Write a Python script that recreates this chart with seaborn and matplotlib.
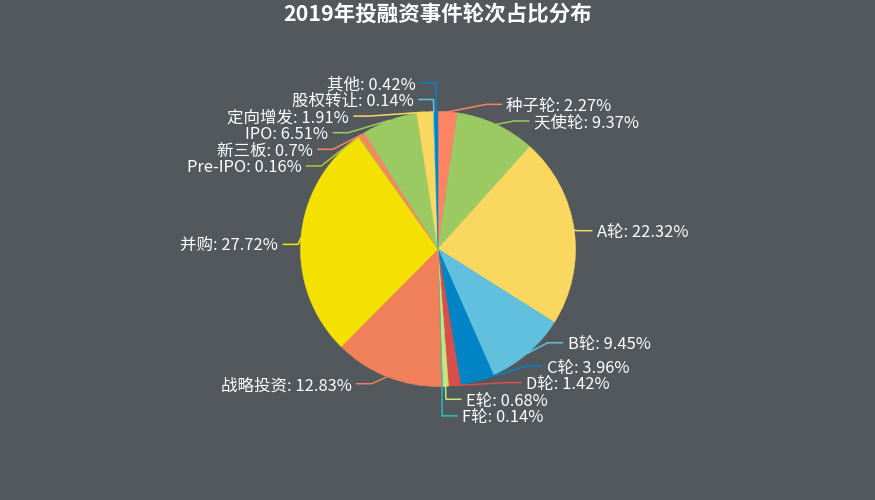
import numpy as np
import matplotlib
matplotlib.use('Agg')
import matplotlib.pyplot as plt
import seaborn as sns

# ---------------- data ----------------
title = '2019年投融资事件轮次占比分布'
categories = ['种子轮', '天使轮', 'A轮', 'B轮', 'C轮', 'D轮', 'E轮', 'F轮', '战略投资',
              '并购', 'Pre-IPO', '新三板', 'IPO', '定向增发', '股权转让', '其他']
shares = [2.27, 9.37, 22.32, 9.45, 3.96, 1.42, 0.68, 0.14, 12.83,
          27.72, 0.16, 0.7, 6.51, 1.91, 0.14, 0.42]
palette_hex = ['#fe8463', '#9bca63', '#fad860', '#60c0dd', '#0084c6', '#d7504b',
               '#c6e579', '#26c0c0', '#f0805a', '#f4e001', '#b5c334']

# ---------------- style ----------------
BG = '#53585d'
W, H = 875, 500
CX, CY, R = 438, 249, 137.5
L1, L2, LD = 7.5, 15, 5        # label line length, length2, text distance
LH = 16.6                      # label height used for overlap avoidance
FS = 16.5 * 72 / 100           # 16.5px

sns.set_theme(style='white')
plt.rcParams['font.family'] = ['Noto Sans CJK SC', 'DejaVu Sans']

colors = sns.color_palette(palette_hex, n_colors=len(categories))

fig = plt.figure(figsize=(W / 100, H / 100), dpi=100, facecolor=BG)
ax = fig.add_axes([0, 0, 1, 1])
ax.set_facecolor(BG)

wedges, _ = ax.pie(shares, colors=colors, startangle=-90, counterclock=True,
                   center=(CX, CY), radius=R, wedgeprops=dict(linewidth=0))
for w in wedges:
    w.set_edgecolor(w.get_facecolor())
    w.set_linewidth(0.4)

ax.set_xlim(0, W)
ax.set_ylim(H, 0)
ax.set_aspect('auto')
ax.axis('off')

# ---------------- label layout (pixel coords, y down) ----------------
items = []
for i, wdg in enumerate(wedges):
    mid = np.deg2rad((wdg.theta1 + wdg.theta2) / 2)
    dx, dy = np.cos(mid), np.sin(mid)
    d = 1 if dx >= 0 else -1
    x1, y1 = CX + dx * R, CY + dy * R
    x2, y2 = CX + dx * (R + L1), CY + dy * (R + L1)
    x3 = x2 + d * L2
    items.append(dict(idx=i, dir=d, x1=x1, y1=y1, x=x3 + d * LD, y=y2, h=LH))


def adjust_side(lst, d):
    if not lst:
        return
    lst.sort(key=lambda it: it['y'])
    n = len(lst)

    def shift_up(end, delta):
        for j in range(end, -1, -1):
            if lst[j]['y'] - delta < 0:
                break
            lst[j]['y'] -= delta
            if j > 0 and lst[j]['y'] > lst[j - 1]['y'] + lst[j - 1]['h']:
                break

    def shift_down(start, end, delta):
        for j in range(start, end):
            if lst[j]['y'] + delta > H:
                break
            lst[j]['y'] += delta
            if j > start and j + 1 < end and lst[j + 1]['y'] > lst[j]['y'] + lst[j]['h']:
                shift_up(j, delta / 2)
                return
        shift_up(end - 1, delta / 2)

    last_y = 0
    for i in range(n):
        delta = lst[i]['y'] - last_y
        if delta < 0:
            shift_down(i, n, -delta)
        last_y = lst[i]['y'] + lst[i]['h']
    if H - last_y < 0:
        shift_up(n - 1, last_y - H)

    up = [it for it in lst if it['y'] < CY]
    down = [it for it in lst if it['y'] >= CY]
    for sub, is_down in ((up, False), (down, True)):
        last_dx = np.inf if is_down else 0
        for it in sub:
            ddy = abs(it['y'] - CY)
            if ddy < R + L1:
                ddx = np.sqrt((R + L1 + L2) ** 2 - ddy ** 2)
            else:
                ddx = abs(it['x'] - CX)
            if is_down and ddx >= last_dx:
                ddx = last_dx - 10
            if (not is_down) and ddx <= last_dx:
                ddx = last_dx + 10
            it['x'] = CX + ddx * d
            last_dx = ddx


adjust_side([it for it in items if it['dir'] > 0], 1)
adjust_side([it for it in items if it['dir'] < 0], -1)

for it in items:
    i, d = it['idx'], it['dir']
    x3 = it['x'] - d * LD
    x2 = x3 - d * L2
    ax.plot([it['x1'], x2, x3], [it['y1'], it['y'], it['y']], color=colors[i],
            lw=1.1, solid_capstyle='round', solid_joinstyle='round', zorder=3)
    ax.text(it['x'], it['y'], f'{categories[i]}: {shares[i]}%', color='white',
            fontsize=FS, ha='left' if d > 0 else 'right', va='center_baseline',
            zorder=4)

ax.text(437.5, 14, title, color='white', fontsize=21.5 * 72 / 100, fontweight='bold',
        ha='center', va='center')

fig.savefig('out.png', dpi=100, facecolor=BG)
